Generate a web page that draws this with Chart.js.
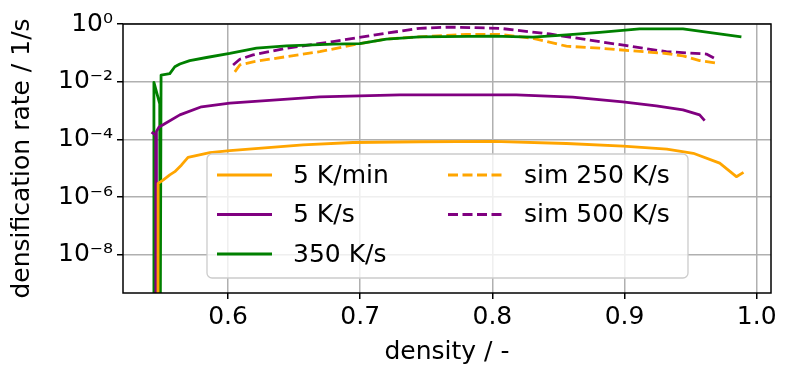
<!DOCTYPE html>
<html>
<head>
<meta charset="utf-8">
<script src="https://cdn.jsdelivr.net/npm/chart.js@4/dist/chart.umd.min.js"></script>
<style>
  body { margin: 0; background: #fff; }
  canvas { display: block; }
</style>
</head>
<body>
<canvas id="chart" width="792" height="379"></canvas>
<script>
// values (density, rate in 1/s); 1e-12 = drops below the axis
const labels = ['5 K/min', '5 K/s', '350 K/s', 'sim 250 K/s', 'sim 500 K/s'];
const colors = ['#FFA500', '#800080', '#008000', '#FFA500', '#800080'];

const densMin5 = [0.5469, 0.5471, 0.5508, 0.5559, 0.5597, 0.5648, 0.5697, 0.5862, 0.6013, 0.6567, 0.6945, 0.745, 0.8007, 0.856, 0.899, 0.932, 0.952, 0.972, 0.9846, 0.990];
const rateMin5 = [1e-12, 3.0e-6, 3.9e-6, 5.9e-6, 7.6e-6, 1.3e-5, 2.4e-5, 3.5e-5, 4.1e-5, 6.5e-5, 7.8e-5, 8.3e-5, 8.5e-5, 7.2e-5, 5.8e-5, 4.6e-5, 3.3e-5, 1.5e-5, 5.1e-6, 7.2e-6];

const densS5 = [0.5421, 0.5453, 0.5454, 0.5456, 0.5458, 0.5478, 0.5508, 0.5635, 0.5799, 0.6013, 0.6694, 0.7299, 0.818, 0.8607, 0.8986, 0.924, 0.9442, 0.9568, 0.9606];
const rateS5 = [1.8e-4, 1.4e-4, 1e-12, 1e-12, 1.9e-4, 2.7e-4, 3.2e-4, 7.1e-4, 1.35e-3, 1.8e-3, 3.0e-3, 3.5e-3, 3.5e-3, 2.9e-3, 2.0e-3, 1.45e-3, 1.05e-3, 7.1e-4, 4.5e-4];

const densS350 = [0.5437, 0.5439, 0.5483, 0.5486, 0.5490, 0.5493, 0.5559, 0.5597, 0.5635, 0.5710, 0.5837, 0.6013, 0.6215, 0.6442, 0.6794, 0.6996, 0.7198, 0.745, 0.8002, 0.8307, 0.856, 0.8812, 0.9114, 0.9442, 0.9884];
const rateS350 = [1e-12, 9.5e-3, 1.7e-3, 1e-12, 1e-12, 1.7e-2, 1.9e-2, 3.3e-2, 4.1e-2, 5.4e-2, 6.9e-2, 9.5e-2, 0.145, 0.174, 0.20, 0.21, 0.30, 0.36, 0.38, 0.35, 0.42, 0.51, 0.68, 0.68, 0.36];

const densSim250 = [0.6051, 0.6089, 0.6189, 0.6442, 0.6694, 0.6996, 0.7198, 0.745, 0.7803, 0.8055, 0.8307, 0.856, 0.8812, 0.9316, 0.9442, 0.9568, 0.9694];
const rateSim250 = [2.2e-2, 3.8e-2, 4.9e-2, 7.4e-2, 0.11, 0.21, 0.30, 0.36, 0.44, 0.44, 0.32, 0.17, 0.145, 0.095, 0.078, 0.054, 0.044];

const densSim500 = [0.6038, 0.6089, 0.6189, 0.6442, 0.6794, 0.7198, 0.745, 0.7677, 0.8055, 0.8433, 0.8812, 0.9316, 0.9619, 0.9694];
const rateSim500 = [3.8e-2, 6.0e-2, 8.5e-2, 0.145, 0.245, 0.48, 0.71, 0.78, 0.71, 0.45, 0.245, 0.11, 0.091, 0.060];

const xTicks = [0.6, 0.7, 0.8, 0.9, 1.0];
const yTicks = [1e-8, 1e-6, 1e-4, 1e-2, 1];

const sup = { '0': '⁰', '1': '¹', '2': '²', '3': '³', '4': '⁴', '5': '⁵', '6': '⁶', '7': '⁷', '8': '⁸', '9': '⁹', '-': '⁻' };
function powLabel(v) {
    const e = String(Math.round(Math.log10(v)));
    return '10' + e.split('').map(c => sup[c]).join('');
}

function pts(xs, ys) {
    return xs.map((x, i) => ({ x: x, y: ys[i] }));
}

const series = [
    pts(densMin5, rateMin5),
    pts(densS5, rateS5),
    pts(densS350, rateS350),
    pts(densSim250, rateSim250),
    pts(densSim500, rateSim500)
];

const datasets = series.map((data, i) => ({
    label: labels[i],
    data: data,
    borderColor: colors[i],
    backgroundColor: colors[i],
    borderWidth: 2.8,
    borderDash: i >= 3 ? [10, 4.5] : [],
    borderJoinStyle: 'round',
    pointRadius: 0,
    tension: 0,
    fill: false
}));

// spines + matplotlib style legend (2 columns)
const frameAndLegend = {
    id: 'frameAndLegend',
    afterDatasetsDraw(chart) {
        const { ctx, chartArea: a } = chart;
        ctx.save();
        ctx.strokeStyle = '#000';
        ctx.lineWidth = 1.5;
        ctx.strokeRect(a.left, a.top, a.right - a.left, a.bottom - a.top);

        const bx = 207, by = 154, bw = 481, bh = 124;
        ctx.beginPath();
        ctx.roundRect(bx, by, bw, bh, 5);
        ctx.fillStyle = 'rgba(255,255,255,0.8)';
        ctx.fill();
        ctx.strokeStyle = '#cccccc';
        ctx.lineWidth = 1.3;
        ctx.stroke();

        ctx.font = '25px "DejaVu Sans"';
        ctx.textBaseline = 'middle';
        ctx.textAlign = 'left';
        chart.data.datasets.forEach((ds, i) => {
            const col = i < 3 ? 0 : 1;
            const row = i < 3 ? i : i - 3;
            const y = 175 + row * 39.5;
            const x0 = col === 0 ? 217 : 448;
            ctx.beginPath();
            ctx.setLineDash(ds.borderDash);
            ctx.strokeStyle = ds.borderColor;
            ctx.lineWidth = ds.borderWidth;
            ctx.moveTo(x0, y);
            ctx.lineTo(x0 + 55, y);
            ctx.stroke();
            ctx.setLineDash([]);
            ctx.fillStyle = '#000';
            ctx.fillText(ds.label, x0 + 76, y + 1);
        });
        ctx.restore();
    }
};

Chart.defaults.font.family = '"DejaVu Sans", sans-serif';
Chart.defaults.color = '#000';

new Chart(document.getElementById('chart'), {
    type: 'line',
    data: { datasets: datasets },
    options: {
        responsive: false,
        animation: false,
        layout: { padding: { top: 24, right: 21, left: 0, bottom: 0 } },
        plugins: { legend: { display: false }, tooltip: { enabled: false } },
        scales: {
            x: {
                type: 'linear',
                min: 0.5205,
                max: 1.0108,
                afterBuildTicks: s => { s.ticks = xTicks.map(v => ({ value: v })); },
                afterFit: s => { s.height = 86; },
                ticks: {
                    font: { size: 25 },
                    padding: 3,
                    maxRotation: 0,
                    callback: v => v.toFixed(1)
                },
                grid: { color: '#b0b0b0', lineWidth: 1.5, tickLength: 6, tickColor: '#000', tickWidth: 1.5 },
                border: { display: false },
                title: { display: true, text: 'density / -', font: { size: 25 }, padding: { top: 0, bottom: 12 } }
            },
            y: {
                type: 'logarithmic',
                min: 4.74e-10,
                max: 1,
                afterBuildTicks: s => { s.ticks = yTicks.map(v => ({ value: v })); },
                afterFit: s => { s.width = 123; },
                ticks: {
                    font: { size: 25 },
                    padding: 4,
                    callback: v => powLabel(v)
                },
                grid: { color: '#b0b0b0', lineWidth: 1.5, tickLength: 6, tickColor: '#000', tickWidth: 1.5 },
                border: { display: false },
                title: { display: true, text: 'densification rate / 1/s', font: { size: 25 }, padding: { top: 7, bottom: 0 } }
            }
        }
    },
    plugins: [frameAndLegend]
});
</script>
</body>
</html>
